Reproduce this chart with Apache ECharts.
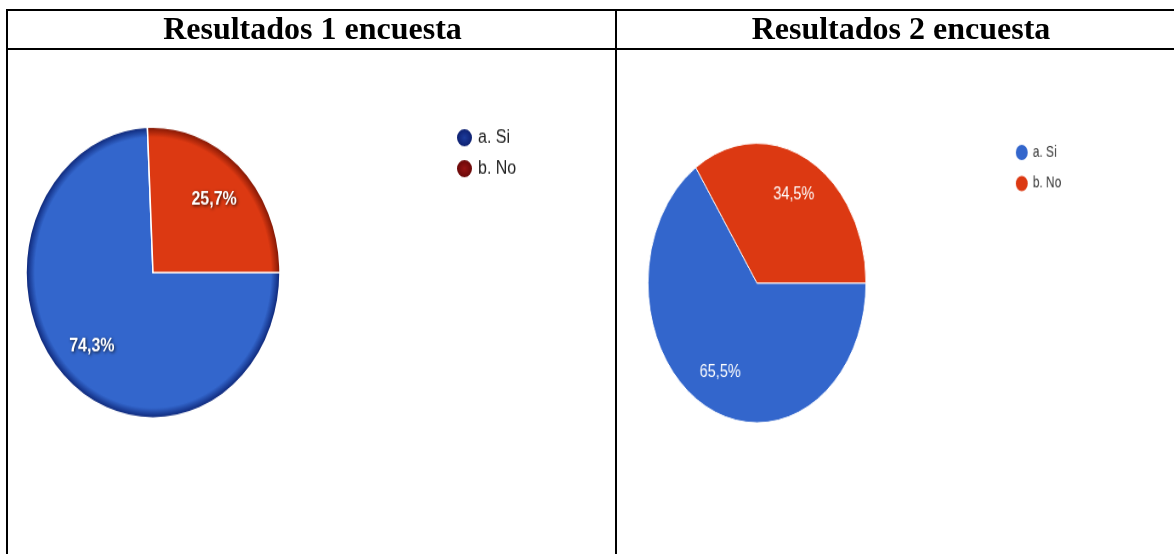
<!DOCTYPE html>
<html>
<head>
<meta charset="utf-8">
<script src="https://cdn.jsdelivr.net/npm/echarts@6/dist/echarts.min.js"></script>
<style>
html,body{margin:0;padding:0;background:#fff;width:1174px;height:554px;overflow:hidden;}
#bg{position:absolute;left:0;top:0;width:1174px;height:554px;}
#p1{position:absolute;left:8px;top:50px;width:608px;height:440px;transform:scale(1,1.146);transform-origin:0 0;}
#p2{position:absolute;left:618px;top:50px;width:654px;height:462px;transform:scale(0.85,1.09);transform-origin:0 0;}
</style>
</head>
<body>
<div id="bg"></div>
<div id="p1"></div>
<div id="p2"></div>
<script>
// ---- data ----
const categories = ['a. Si', 'b. No'];
const survey1 = [74.3, 25.7];
const survey2 = [65.5, 34.5];
const titles = ['Resultados 1 encuesta', 'Resultados 2 encuesta'];

function fmt(p){ return p.value.toFixed(1).replace('.', ',') + '%'; }

// ---- background table with titles ----
const bg = echarts.init(document.getElementById('bg'), null, {renderer:'canvas'});
const lineStyle = {stroke:'#000', lineWidth:2};
const titleFont = 'bold 32px "Liberation Serif", "Times New Roman", serif';
bg.setOption({
  animation:false,
  graphic:[
    {type:'line', shape:{x1:6, y1:10, x2:1174, y2:10}, style:lineStyle},
    {type:'line', shape:{x1:6, y1:49, x2:1174, y2:49}, style:lineStyle},
    {type:'line', shape:{x1:7, y1:9, x2:7, y2:554}, style:lineStyle},
    {type:'line', shape:{x1:616, y1:9, x2:616, y2:554}, style:lineStyle},
    {type:'text', x:312.5, y:31, style:{text:titles[0], font:titleFont, fill:'#000', textAlign:'center', textVerticalAlign:'middle'}},
    {type:'text', x:901, y:31, style:{text:titles[1], font:titleFont, fill:'#000', textAlign:'center', textVerticalAlign:'middle'}}
  ]
});

function outward(cx, cy, f){
  return function(p){
    const lx = p.labelRect.x + p.labelRect.width/2;
    const ly = p.labelRect.y + p.labelRect.height/2;
    return {dx:(lx-cx)*(f-1), dy:(ly-cy)*(f-1)};
  };
}

// ---- chart 1 ----
const c1 = {x:145, y:194.2, r:127};
function rim(c, inner, edge){
  return {type:'radial', x:c.x, y:c.y, r:c.r, global:true,
    colorStops:[{offset:0,color:inner},{offset:0.93,color:inner},{offset:1,color:edge}]};
}
const p1 = echarts.init(document.getElementById('p1'), null, {renderer:'canvas'});
p1.setOption({
  animation:false,
  legend:{
    orient:'vertical', left:447, top:67, padding:0, itemWidth:17, itemHeight:17, itemGap:8, icon:'circle',
    textStyle:{fontFamily:'"Liberation Sans", Arial, sans-serif', fontSize:16, lineHeight:17, color:'#222'},
    data:[
      {name:categories[0], itemStyle:{color:{type:'radial',x:0.5,y:0.5,r:0.5,colorStops:[{offset:0,color:'#1d3c9c'},{offset:1,color:'#0a1a66'}]}}},
      {name:categories[1], itemStyle:{color:{type:'radial',x:0.5,y:0.5,r:0.5,colorStops:[{offset:0,color:'#961414'},{offset:1,color:'#5e0505'}]}}}
    ]
  },
  series:[{
    type:'pie', center:[c1.x, c1.y], radius:c1.r, startAngle:0, clockwise:true,
    avoidLabelOverlap:false, silent:true, emphasis:{disabled:true},
    label:{show:true, position:'inside', formatter:fmt, color:'#fff', fontWeight:'bold', fontSize:16,
      fontFamily:'"Liberation Sans", Arial, sans-serif',
      textShadowColor:'rgba(0,0,0,0.75)', textShadowBlur:3, textShadowOffsetX:1, textShadowOffsetY:1},
    labelLine:{show:false},
    labelLayout: outward(c1.x, c1.y, 1.33),
    itemStyle:{borderColor:'#fff', borderWidth:1.5},
    data:[
      {name:categories[0], value:survey1[0], itemStyle:{color:rim(c1,'#3366cc','#0c2475')}},
      {name:categories[1], value:survey1[1], itemStyle:{color:rim(c1,'#dc3912','#7e1604')}}
    ]
  }]
});

// ---- chart 2 ----
const c2 = {x:163.5, y:213.8, r:128.2};
const p2 = echarts.init(document.getElementById('p2'), null, {renderer:'canvas'});
p2.setOption({
  animation:false,
  color:['#3366cc','#dc3912'],
  legend:{
    orient:'vertical', left:466, top:85, padding:0, itemWidth:16, itemHeight:16, itemGap:10.5, icon:'circle',
    textStyle:{fontFamily:'"Liberation Sans", Arial, sans-serif', fontSize:14, lineHeight:16, color:'#333'},
    data:categories
  },
  series:[{
    type:'pie', center:[c2.x, c2.y], radius:c2.r, startAngle:0, clockwise:true,
    avoidLabelOverlap:false, silent:true, emphasis:{disabled:true},
    label:{show:true, position:'inside', formatter:fmt, color:'#fff', fontSize:17,
      fontFamily:'"Liberation Sans", Arial, sans-serif'},
    labelLine:{show:false},
    labelLayout: outward(c2.x, c2.y, 1.38),
    itemStyle:{borderColor:'#fff', borderWidth:1},
    data:[
      {name:categories[0], value:survey2[0]},
      {name:categories[1], value:survey2[1]}
    ]
  }]
});
</script>
</body>
</html>
